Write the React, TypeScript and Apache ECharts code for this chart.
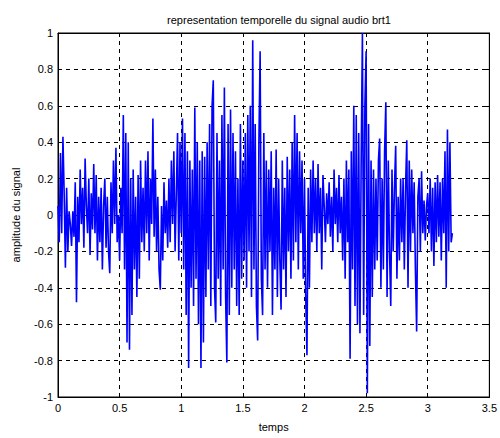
import React, { useEffect, useRef } from "react";
import * as echarts from "echarts";

// sample step (s)
const dt = 0.01;

// amplitude samples, 0.00 s .. 3.20 s
const seg0to08 = [
  0.05, -0.15, 0.34, -0.1, 0.43, 0.12, -0.29, 0.15, -0.2, 0.02,
  -0.05, -0.17, 0.02, -0.12, 0.18, -0.48, 0.1, -0.15, 0.25, -0.05,
  0.15, -0.18, 0.31, 0.05, -0.1, 0.2, -0.22, 0.12, -0.08, 0.28,
  -0.1, 0.22, -0.25, 0.1, -0.15, 0.15, -0.3, 0.05, 0.2, -0.18,
  0.1, -0.2, -0.32, 0.18, -0.1, 0.3, -0.05, 0.37, -0.15, 0.0,
  -0.25, 0.15, -0.1, 0.55, -0.3, 0.45, -0.7, 0.4, -0.74, 0.2,
  -0.55, 0.25, -0.3, 0.1, -0.45, 0.22, -0.35, 0.3, -0.15, 0.15,
  -0.2, 0.3, -0.1, 0.35, -0.25, 0.2, -0.05, 0.53, -0.12, 0.25,
];
const seg08to16 = [
  -0.2, 0.1, -0.3, -0.41, 0.05, -0.25, 0.18, -0.1, 0.08, -0.18,
  0.2, -0.15, 0.3, -0.05, 0.35, -0.2, 0.12, 0.45, -0.25, 0.4,
  -0.1, 0.53, -0.3, 0.45, -0.55, 0.35, -0.84, 0.3, -0.4, 0.25,
  -0.5, 0.59, -0.35, 0.4, -0.6, 0.3, -0.84, 0.35, -0.7, 0.32,
  -0.45, 0.4, -0.3, 0.5, -0.5, 0.6, 0.74, -0.4, -0.59, 0.45,
  -0.35, 0.3, -0.5, 0.55, -0.3, 0.7, -0.45, -0.81, 0.5, -0.55,
  0.58, -0.4, 0.45, -0.3, 0.35, -0.5, 0.2, -0.55, 0.5, -0.35,
  0.3, -0.25, 0.45, -0.4, 0.55, -0.2, 0.6, -0.45, 0.96, -0.3,
];
const seg16to24 = [
  0.5, -0.5, -0.69, 0.4, 0.9, -0.35, -0.55, 0.45, -0.3, 0.3,
  -0.4, 0.25, -0.2, 0.35, -0.55, 0.15, -0.3, 0.36, -0.45, 0.2,
  -0.25, -0.52, 0.3, -0.3, 0.15, -0.45, 0.32, -0.2, 0.25, -0.35,
  0.4, -0.25, 0.55, -0.15, 0.45, -0.3, 0.35, -0.1, 0.3, -0.35,
  0.2, -0.45, -0.77, 0.15, -0.4, 0.25, -0.15, 0.3, -0.1, 0.2,
  -0.2, 0.28, -0.1, 0.15, -0.3, 0.22, 0.05, -0.15, 0.12, -0.05,
  0.18, -0.12, 0.1, -0.2, 0.25, -0.05, 0.15, -0.15, 0.22, -0.1,
  0.1, -0.25, 0.2, -0.35, 0.3, -0.15, 0.25, -0.79, 0.35, -0.3,
];
const seg24to32 = [
  0.6, -0.5, 0.55, -0.6, 0.45, -0.65, 0.3, 1.0, -0.55, 0.6,
  0.9, -0.98, 0.5, -0.72, 0.3, -0.45, 0.25, -0.3, 0.2, -0.25,
  0.3, 0.42, -0.4, 0.2, -0.3, 0.35, 0.62, -0.45, 0.3, -0.2,
  -0.5, 0.25, -0.2, 0.15, 0.38, -0.35, 0.1, -0.25, 0.2, -0.15,
  0.2, -0.3, 0.15, 0.41, -0.4, 0.3, -0.2, 0.25, -0.1, 0.18,
  -0.3, -0.64, 0.1, 0.2, -0.2, 0.24, -0.1, 0.08, -0.14, 0.05,
  0.12, -0.1, 0.2, -0.2, 0.15, -0.28, 0.18, -0.15, 0.22, -0.12,
  0.18, -0.25, 0.2, -0.1, 0.35, -0.4, 0.47, -0.2, 0.4, -0.15,
  -0.1,
];

const xTicks = [0, 0.5, 1, 1.5, 2, 2.5, 3, 3.5];
const yTicks = [-1, -0.8, -0.6, -0.4, -0.2, 0, 0.2, 0.4, 0.6, 0.8, 1];

const titleText = "representation temporelle du signal audio brt1";
const xName = "temps";
const yName = "amplitude du signal";

export default function App() {
  const ref = useRef<HTMLDivElement>(null);
  useEffect(() => {
    if (!ref.current) return;
    const chart = echarts.init(ref.current, undefined, { renderer: "svg" });
    const samples = [...seg0to08, ...seg08to16, ...seg16to24, ...seg24to32];
    const data = samples.map((v, i) => [Number((i * dt).toFixed(2)), v]);
    const font = "'Liberation Sans', Arial, sans-serif";
    const fmt = (v: number) => String(v);
    chart.setOption({
      animation: false,
      backgroundColor: "#ffffff",
      textStyle: { fontFamily: font },
      title: {
        text: titleText,
        left: 274,
        textAlign: "center",
        top: 9,
        textStyle: { fontSize: 11, fontWeight: "normal", color: "#000", fontFamily: font },
      },
      grid: { left: 58, right: 10, top: 33, bottom: 41, show: true, borderColor: "#000", borderWidth: 1 },
      xAxis: [
        {
          type: "value",
          min: xTicks[0],
          max: xTicks[xTicks.length - 1],
          interval: 0.5,
          name: xName,
          nameLocation: "middle",
          nameGap: 24,
          nameTextStyle: { fontSize: 11, color: "#000", fontFamily: font },
          axisLine: { show: true, onZero: false, lineStyle: { color: "#000" } },
          axisTick: { show: true, inside: true, length: 4, lineStyle: { color: "#000" } },
          axisLabel: { fontSize: 11, color: "#000", margin: 5, formatter: fmt, fontFamily: font },
          splitLine: { show: true, lineStyle: { color: "#000", type: [4, 4], width: 1 } },
        },
        {
          type: "value",
          position: "top",
          min: xTicks[0],
          max: xTicks[xTicks.length - 1],
          interval: 0.5,
          axisLine: { show: true, onZero: false, lineStyle: { color: "#000" } },
          axisTick: { show: true, inside: true, length: 4, lineStyle: { color: "#000" } },
          axisLabel: { show: false },
          splitLine: { show: false },
        },
      ],
      yAxis: [
        {
          type: "value",
          min: yTicks[0],
          max: yTicks[yTicks.length - 1],
          interval: 0.2,
          name: yName,
          nameLocation: "middle",
          nameGap: 37,
          nameTextStyle: { fontSize: 11, color: "#000", fontFamily: font },
          axisLine: { show: true, onZero: false, lineStyle: { color: "#000" } },
          axisTick: { show: true, inside: true, length: 4, lineStyle: { color: "#000" } },
          axisLabel: {
            fontSize: 11,
            color: "#000",
            margin: 5,
            fontFamily: font,
            formatter: (v: number) => String(Number(v.toFixed(1))),
          },
          splitLine: { show: true, lineStyle: { color: "#000", type: [4, 4], width: 1 } },
        },
        {
          type: "value",
          position: "right",
          min: yTicks[0],
          max: yTicks[yTicks.length - 1],
          interval: 0.2,
          axisLine: { show: true, onZero: false, lineStyle: { color: "#000" } },
          axisTick: { show: true, inside: true, length: 4, lineStyle: { color: "#000" } },
          axisLabel: { show: false },
          splitLine: { show: false },
        },
      ],
      series: [
        {
          type: "line",
          data,
          showSymbol: false,
          symbol: "none",
          lineStyle: { color: "#0000ff", width: 1.6 },
          xAxisIndex: 0,
          yAxisIndex: 0,
        },
      ],
    });
    return () => chart.dispose();
  }, []);
  return <div ref={ref} style={{ width: 500, height: 438, position: "absolute", left: 0, top: 0 }} />;
}
